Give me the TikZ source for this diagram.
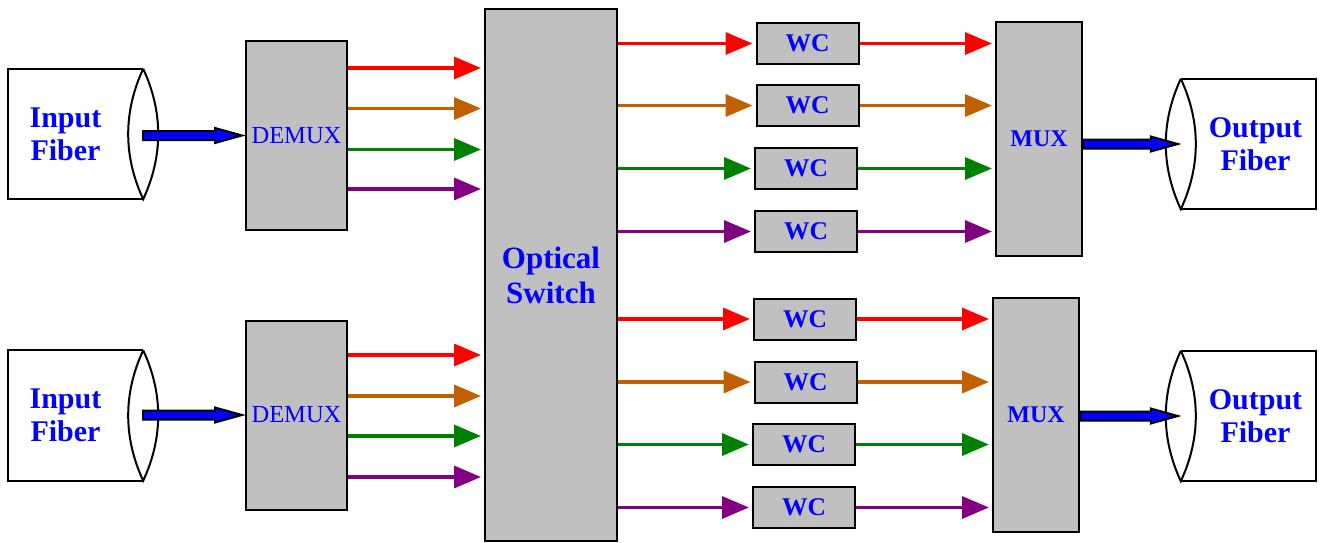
\documentclass[tikz,border=0pt]{standalone}
\usepackage{fontspec}
\setmainfont{Liberation Serif}
\usetikzlibrary{arrows.meta,calc}
\definecolor{boxgray}{RGB}{192,192,192}
\definecolor{txtblue}{RGB}{0,0,255}
\definecolor{chred}{RGB}{255,0,0}
\definecolor{chorange}{RGB}{192,96,0}
\definecolor{chgreen}{RGB}{0,128,0}
\definecolor{chpurple}{RGB}{128,0,128}

% thick blue arrow with black outline, drawn between two points
\newcommand{\fatarrow}[2]{%
  \path[fatarr] let \p1=(#1), \p2=(#2) in
    (\x1,\y1+4.5pt) -- (\x2-30pt,\y1+4.5pt) -- (\x2-30pt,\y1+7.5pt) -- (\x2-3pt,\y1)
    -- (\x2-30pt,\y1-7.5pt) -- (\x2-30pt,\y1-4.5pt) -- (\x1,\y1-4.5pt) -- cycle;}

\begin{document}
\begin{tikzpicture}[x=1pt,y=-1pt,
  every node/.style={inner sep=0pt},
  blk/.style={draw,fill=boxgray,line width=2pt,text=txtblue},
  demux/.style={blk,minimum width=101pt,minimum height=189pt,
                font=\fontsize{24.5}{28}\selectfont},
  mux/.style={blk,minimum width=86pt,minimum height=234pt,
              font=\fontsize{24}{28}\selectfont\bfseries},
  wc/.style={blk,minimum width=102pt,minimum height=41pt,
             font=\fontsize{25.5}{28}\selectfont\bfseries},
  fiber/.style={minimum width=135pt,minimum height=130pt},
  fibtext/.style={text=txtblue,align=center,font=\fontsize{30}{33}\selectfont\bfseries},
  fiberline/.style={line width=2pt},
  wl/.style={line width=3.5pt,-{Triangle[length=27pt,width=22pt]},shorten >=3pt},
  fatarr/.style={draw=black,fill=txtblue,line width=2pt}
]
\useasboundingbox (0,0) rectangle (1323,543);

% input side
\node[fiber] (fib1) at (75.5,134) {};
\node[fiber] (fib2) at (75.5,415.5) {};
\node[fibtext] (in1) at ([xshift=-10pt]fib1.center) {Input\\Fiber};
\node[fibtext] (in2) at ([xshift=-10pt]fib2.center) {Input\\Fiber};
\foreach \f in {fib1,fib2}{
  \draw[fiberline] (\f.north east) -- (\f.north west) -- (\f.south west) -- (\f.south east);
  \draw[fiberline] (\f.north east) .. controls +(-20,43) and +(-20,-43) .. (\f.south east)
    .. controls +(20,-43) and +(20,43) .. (\f.north east);
}
\node[demux] (dmx1) at (296.5,135.5) {DEMUX};
\node[demux] (dmx2) at (296.5,415) {DEMUX};

% switch
\node[blk,minimum width=132pt,minimum height=532pt,align=center,
      font=\fontsize{31}{35}\selectfont\bfseries] (sw) at (551,275) {Optical\\Switch};

% wavelength converters
\node[wc] (wc1) at (807.5,43.5) {WC};
\node[wc] (wc2) at (807.5,105.5) {WC};
\node[wc] (wc3) at (806,168.5) {WC};
\node[wc] (wc4) at (806,231.5) {WC};
\node[wc] (wc5) at (805,319) {WC};
\node[wc] (wc6) at (805.5,382) {WC};
\node[wc] (wc7) at (804,444.5) {WC};
\node[wc] (wc8) at (804,507.5) {WC};

% output side
\node[mux] (mux1) at (1039,139) {MUX};
\node[mux] (mux2) at (1036,415) {MUX};
\node[fiber] (ofib1) at (1248.5,144) {};
\node[fiber] (ofib2) at (1248.5,416) {};
\node[fibtext] (out1) at ([xshift=7pt]ofib1.center) {Output\\Fiber};
\node[fibtext] (out2) at ([xshift=7pt]ofib2.center) {Output\\Fiber};
\foreach \f in {ofib1,ofib2}{
  \draw[fiberline] (\f.north west) -- (\f.north east) -- (\f.south east) -- (\f.south west);
  \draw[fiberline] (\f.north west) .. controls +(-20,43) and +(-20,-43) .. (\f.south west)
    .. controls +(20,-43) and +(20,43) .. (\f.north west);
}

% blue fiber arrows
\fatarrow{fib1.east |- dmx1.west}{dmx1.west}
\fatarrow{fib2.east |- dmx2.west}{dmx2.west}
\fatarrow{mux1.east |- ofib1.west}{ofib1.west}
\fatarrow{mux2.east |- ofib2.west}{ofib2.west}

% wavelengths into the switch
\foreach \y/\col in {68/chred,108.5/chorange,149.5/chgreen,189/chpurple}
  \draw[wl,\col] (dmx1.east |- 0,\y) -- (sw.west |- 0,\y);
\foreach \y/\col in {355/chred,396/chorange,436/chgreen,477/chpurple}
  \draw[wl,\col] (dmx2.east |- 0,\y) -- (sw.west |- 0,\y);

% switch -> WC -> MUX
\foreach \n/\col in {1/chred,2/chorange,3/chgreen,4/chpurple}{
  \draw[wl,\col] (wc\n -| sw.east) -- (wc\n.west);
  \draw[wl,\col] (wc\n.east) -- (wc\n.east -| mux1.west);
}
\foreach \n/\col in {5/chred,6/chorange,7/chgreen,8/chpurple}{
  \draw[wl,\col] (wc\n -| sw.east) -- (wc\n.west);
  \draw[wl,\col] (wc\n.east) -- (wc\n.east -| mux2.west);
}
\end{tikzpicture}
\end{document}
